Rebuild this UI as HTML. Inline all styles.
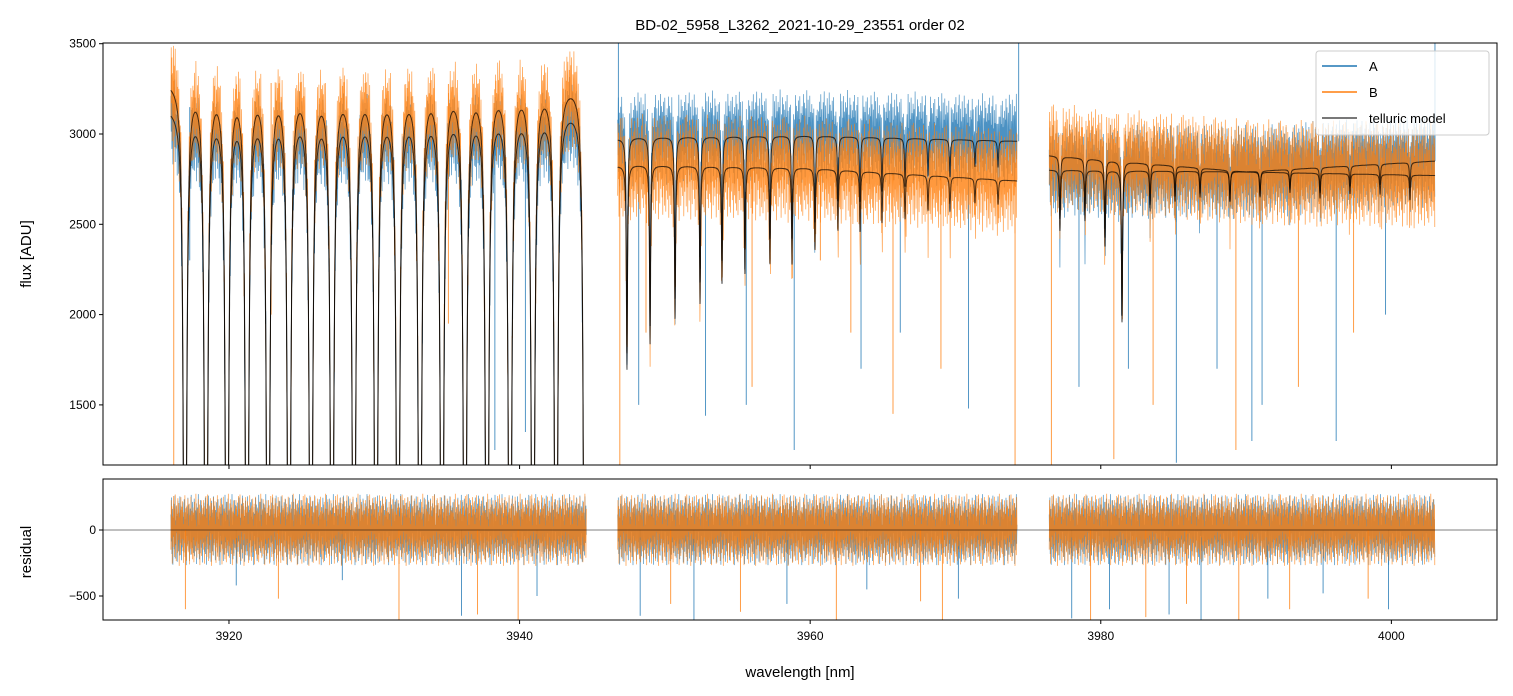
<!DOCTYPE html>
<html><head><meta charset="utf-8"><style>
body{margin:0;background:#fff;}
svg{display:block;font-family:"Liberation Sans","DejaVu Sans",sans-serif;}
</style></head><body>
<svg id="chart" width="1513" height="696">
<defs>
<clipPath id="clipTop"><rect x="103" y="43" width="1394" height="422"/></clipPath>
<clipPath id="clipRes"><rect x="103" y="479" width="1394" height="141"/></clipPath>
</defs>
<text x="800" y="30" text-anchor="middle" font-size="15">BD-02_5958_L3262_2021-10-29_23551  order 02</text>
<g id="topData" clip-path="url(#clipTop)"></g>
<g id="resData" clip-path="url(#clipRes)"></g>
<rect x="103" y="43" width="1394" height="422" fill="none" stroke="#000" stroke-width="1"/>
<rect x="103" y="479" width="1394" height="141" fill="none" stroke="#000" stroke-width="1"/>
<g id="axes"></g>
<text transform="translate(31,254) rotate(-90)" text-anchor="middle" font-size="15">flux [ADU]</text>
<text transform="translate(31,552) rotate(-90)" text-anchor="middle" font-size="15">residual</text>
<text x="800" y="677" text-anchor="middle" font-size="15">wavelength [nm]</text>
<g>
<rect x="1316" y="51" width="173" height="84" rx="3" fill="#fff" fill-opacity="0.8" stroke="#ccc"/>
<line x1="1322" y1="66" x2="1357" y2="66" stroke="#1f77b4" stroke-width="1.5"/>
<text x="1369" y="71" font-size="13">A</text>
<line x1="1322" y1="92" x2="1357" y2="92" stroke="#ff7f0e" stroke-width="1.5"/>
<text x="1369" y="97" font-size="13">B</text>
<line x1="1322" y1="118" x2="1357" y2="118" stroke="#000" stroke-opacity="0.7" stroke-width="1.5"/>
<text x="1369" y="123" font-size="13">telluric model</text>
</g>
</svg>
<script>
const segments = [[3916.0,3944.6],[3946.75,3974.25],[3976.45,4003.0]];
const lineCenters = [3916.97,3918.42,3919.86,3921.24,3922.69,3924.13,3925.64,3927.09,3928.60,3930.12,3931.63,3933.14,3934.66,3936.24,3937.76,3939.34,3940.92,3942.51,3944.50,
3947.39,3948.98,3950.70,3952.42,3953.93,3955.51,3957.23,3958.75,3960.33,3961.91,3963.43,3964.94,3966.53,3968.11,3969.62,3971.34,3972.93,
3977.19,3978.91,3980.29,3981.46,3983.39,3985.11,3986.83,3988.89,3990.96,3993.02,3995.09,3997.15,3999.22,4001.28];
const lineDepths = [1,1,1,1,1,1,1,1,1,1,1,1,1,1,1,1,1,1,1,
0.40,0.35,0.30,0.27,0.23,0.21,0.19,0.19,0.16,0.12,0.12,0.10,0.09,0.07,0.07,0.05,0.05,
0.12,0.10,0.15,0.30,0.08,0.06,0.05,0.06,0.05,0.04,0.05,0.04,0.04,0.05];
const contKnotsWl = [3916.0,3930.0,3944.6,3946.75,3960.0,3974.25,3976.45,3990.0,4003.0];
const contA = [3150,3140,3150,2980,2990,2960,2800,2790,2850];
const contB = [3295,3270,3290,2830,2810,2740,2880,2790,2770];
const noiseA = [0.42,-0.31,0.88,-0.65,0.12,0.57,-0.94,0.33,-0.18,0.71,-0.52,0.05,0.93,-0.77,0.26,-0.41,0.64,-0.09,0.38,-0.86,0.15,0.79,-0.24,-0.58,0.47,0.02,-0.69,0.91,-0.35,0.21,0.66,-0.13,-0.82,0.54,0.09,-0.47,0.75,-0.28,0.36,-0.61,0.83,-0.05,0.29,-0.73,0.48,0.17,-0.95,0.62,-0.16,0.44,-0.39,0.87,-0.56,0.07,0.69,-0.21,-0.84,0.31,0.58,-0.11,-0.67,0.95,-0.33,0.24,-0.49,0.76,0.04,-0.62,0.41,-0.27,0.85,-0.71,0.19,0.53,-0.44,-0.08,0.72,-0.92,0.35,0.61,-0.19,-0.55,0.97,-0.37,0.14,-0.79,0.46,0.27,-0.63,0.81,-0.02,-0.48,0.67,-0.26,0.39,-0.88,0.56,0.11,-0.34,0.74,-0.59];
const noiseB = [-0.53,0.81,-0.22,0.64,-0.91,0.37,0.08,-0.46,0.92,-0.15,0.58,-0.73,0.29,0.96,-0.38,0.13,-0.84,0.67,-0.05,0.44,-0.62,0.86,-0.27,0.19,0.73,-0.97,0.34,-0.11,0.55,-0.68,0.89,0.02,-0.41,0.63,-0.24,0.78,-0.57,0.16,-0.89,0.48,0.31,-0.36,0.94,-0.72,0.07,0.59,-0.18,-0.83,0.66,-0.44,0.25,0.85,-0.6,0.12,-0.29,0.71,-0.93,0.4,0.18,-0.51,0.9,-0.09,-0.66,0.52,0.33,-0.79,0.61,-0.2,0.47,-0.87,0.04,0.76,-0.42,0.28,-0.58,0.98,-0.31,0.1,-0.75,0.57,0.22,-0.49,0.83,-0.14,-0.65,0.38,0.69,-0.95,0.15,0.5,-0.26,0.8,-0.7,0.06,0.43,-0.37,0.6];
const spikeAWl = [3917.3,3938.3,3940.4,3946.8,3948.2,3952.8,3955.6,3958.9,3963.5,3966.2,3970.9,3974.35,3978.5,3981.9,3985.2,3988.0,3990.4,3991.1,3996.2,3999.6,4003.0];
const spikeAVal = [2300,1250,1350,3600,1500,1440,1500,1250,1700,1900,1480,3600,1600,1700,1180,1700,1300,1500,1300,2000,3600];
const spikeBWl = [3916.2,3922.9,3935.1,3946.9,3948.7,3956.0,3960.7,3962.8,3965.7,3969.0,3974.1,3976.6,3980.9,3983.6,3989.3,3993.6,3997.4];
const spikeBVal = [1168,2000,1950,1168,1900,1600,2300,1900,1450,1700,1168,1168,1200,1500,1250,1600,1900];
const resSpikeAWl = [3920.5,3927.8,3936.0,3941.2,3948.3,3952.0,3958.4,3963.9,3970.2,3978.0,3980.6,3984.7,3986.9,3991.5,3995.3,3999.8];
const resSpikeAVal = [-420,-380,-650,-500,-650,-680,-560,-450,-520,-670,-600,-640,-680,-520,-480,-600];
const resSpikeBWl = [3917.0,3923.4,3931.7,3937.1,3939.9,3950.4,3955.2,3961.8,3967.6,3969.1,3979.3,3983.1,3985.9,3989.5,3993.0,3998.4];
const resSpikeBVal = [-600,-520,-680,-640,-680,-560,-620,-680,-540,-680,-680,-660,-560,-680,-600,-520];
const xTicks = [3920,3940,3960,3980,4000];
const yTicksTop = [1500,2000,2500,3000,3500];
const yTicksRes = [-500,0];

const NS="http://www.w3.org/2000/svg";
const xS = w => 103 + (w - 3911.33) * 14.53;
const yT = v => 43.7 + (3500 - v) * 0.1806;
const yR = v => 530 - v * 0.132;
function segIndex(w){
 let best=0,bd=1e9;
 for(let i=0;i<segments.length;i++){
  if(w>=segments[i][0]&&w<=segments[i][1])return i;
  const d=Math.min(Math.abs(w-segments[i][0]),Math.abs(w-segments[i][1]));
  if(d<bd){bd=d;best=i;}
 }
 return best;
}
function cont(w, arr){const s=segIndex(w);const k=s*3;const w0=contKnotsWl[k],w1=contKnotsWl[k+1],w2=contKnotsWl[k+2];
 if(w<=w1)return arr[k]+(arr[k+1]-arr[k])*(w-w0)/(w1-w0);return arr[k+1]+(arr[k+2]-arr[k+1])*(w-w1)/(w2-w1);}
function trans(w){let tau=0;for(let i=0;i<lineCenters.length;i++){const d=w-lineCenters[i];if(Math.abs(d)>3)continue;
 const deep=lineDepths[i]>=0.999;const g=deep?0.011:0.04;const t0=deep?110:-Math.log(1-lineDepths[i]);
 tau+=t0*g*g/(d*d+g*g);}return Math.exp(-tau);}
function mk(tag,attrs,parent){const e=document.createElementNS(NS,tag);for(const k in attrs)e.setAttribute(k,attrs[k]);parent.appendChild(e);return e;}
const topG=document.getElementById('topData'), resG=document.getElementById('resData'), axesG=document.getElementById('axes');

function drawSeries(contArr, noise, scale, color, name){
 segments.forEach((sg,si)=>{
  let d='', dr='', i=0;
  for(let w=sg[0];w<=sg[1];w+=0.023,i++){
   const c=cont(w,contArr);
   const m=c*trans(w);
   const n=noise[i%noise.length];
   const v=m+n*scale*(0.4+0.6*m/c);
   d+=(i?'L':'M')+xS(w).toFixed(1)+' '+yT(v).toFixed(1);
   dr+=(i?'L':'M')+xS(w).toFixed(1)+' '+yR(n*280).toFixed(1);
  }
  const p=mk('path',{d:d,fill:'none',stroke:color,'stroke-width':0.7,'stroke-opacity':0.8},topG);
  
  
  const r=mk('path',{d:dr,fill:'none',stroke:color,'stroke-width':0.7,'stroke-opacity':0.8},resG);
  
  
 });
}
function drawSpikes(wls, vals, contArr, color, name){
 wls.forEach((w,i)=>{
  const m=cont(w,contArr);
  const l=mk('line',{x1:xS(w),x2:xS(w),y1:yT(m),y2:yT(vals[i]),stroke:color,'stroke-width':0.9,'stroke-opacity':0.85},topG);
  
  
 });
}
function drawResSpikes(wls, vals, color, name){
 wls.forEach((w,i)=>{
  const l=mk('line',{x1:xS(w),x2:xS(w),y1:yR(0),y2:yR(vals[i]),stroke:color,'stroke-width':0.9,'stroke-opacity':0.85},resG);
  
  
 });
}
drawSeries(contA, noiseA, 270, '#1f77b4', 'series-a');
drawSpikes(spikeAWl, spikeAVal, contA, '#1f77b4', 'series-a');
drawResSpikes(resSpikeAWl, resSpikeAVal, '#1f77b4', 'series-a');
drawSeries(contB, noiseB, 300, '#ff7f0e', 'series-b');
drawSpikes(spikeBWl, spikeBVal, contB, '#ff7f0e', 'series-b');
drawResSpikes(resSpikeBWl, resSpikeBVal, '#ff7f0e', 'series-b');

[contA, contB].forEach((arr,ai)=>{
 segments.forEach(sg=>{
  let d='',i=0;
  for(let w=sg[0];w<=sg[1];w+=0.005,i++){const v=cont(w,arr)*trans(w);d+=(i?'L':'M')+xS(w).toFixed(1)+' '+yT(v).toFixed(1);}
  const p=mk('path',{d:d,fill:'none',stroke:'#000','stroke-width':1,'stroke-opacity':0.7},topG);
  
  
 });
});
const zl=mk('line',{x1:103,x2:1497,y1:yR(0),y2:yR(0),stroke:'#000','stroke-width':0.5},resG);



xTicks.forEach(t=>{
 [465,620].forEach(y=>{const l=mk('line',{x1:xS(t),x2:xS(t),y1:y,y2:y+4,stroke:'#000'},axesG);
  
  });
 const tx=mk('text',{x:xS(t),y:640,'text-anchor':'middle','font-size':12},axesG);tx.textContent=t;
 
 
});
yTicksTop.forEach(t=>{
 const l=mk('line',{x1:99,x2:103,y1:yT(t),y2:yT(t),stroke:'#000'},axesG);
 
 
 const tx=mk('text',{x:96,y:yT(t)+4,'text-anchor':'end','font-size':12},axesG);tx.textContent=t;
 
 
});
yTicksRes.forEach(t=>{
 const l=mk('line',{x1:99,x2:103,y1:yR(t),y2:yR(t),stroke:'#000'},axesG);
 
 
 const tx=mk('text',{x:96,y:yR(t)+4,'text-anchor':'end','font-size':12},axesG);tx.textContent=(t<0?'\u2212':'')+Math.abs(t);
 
 
});
</script>
</body></html>
